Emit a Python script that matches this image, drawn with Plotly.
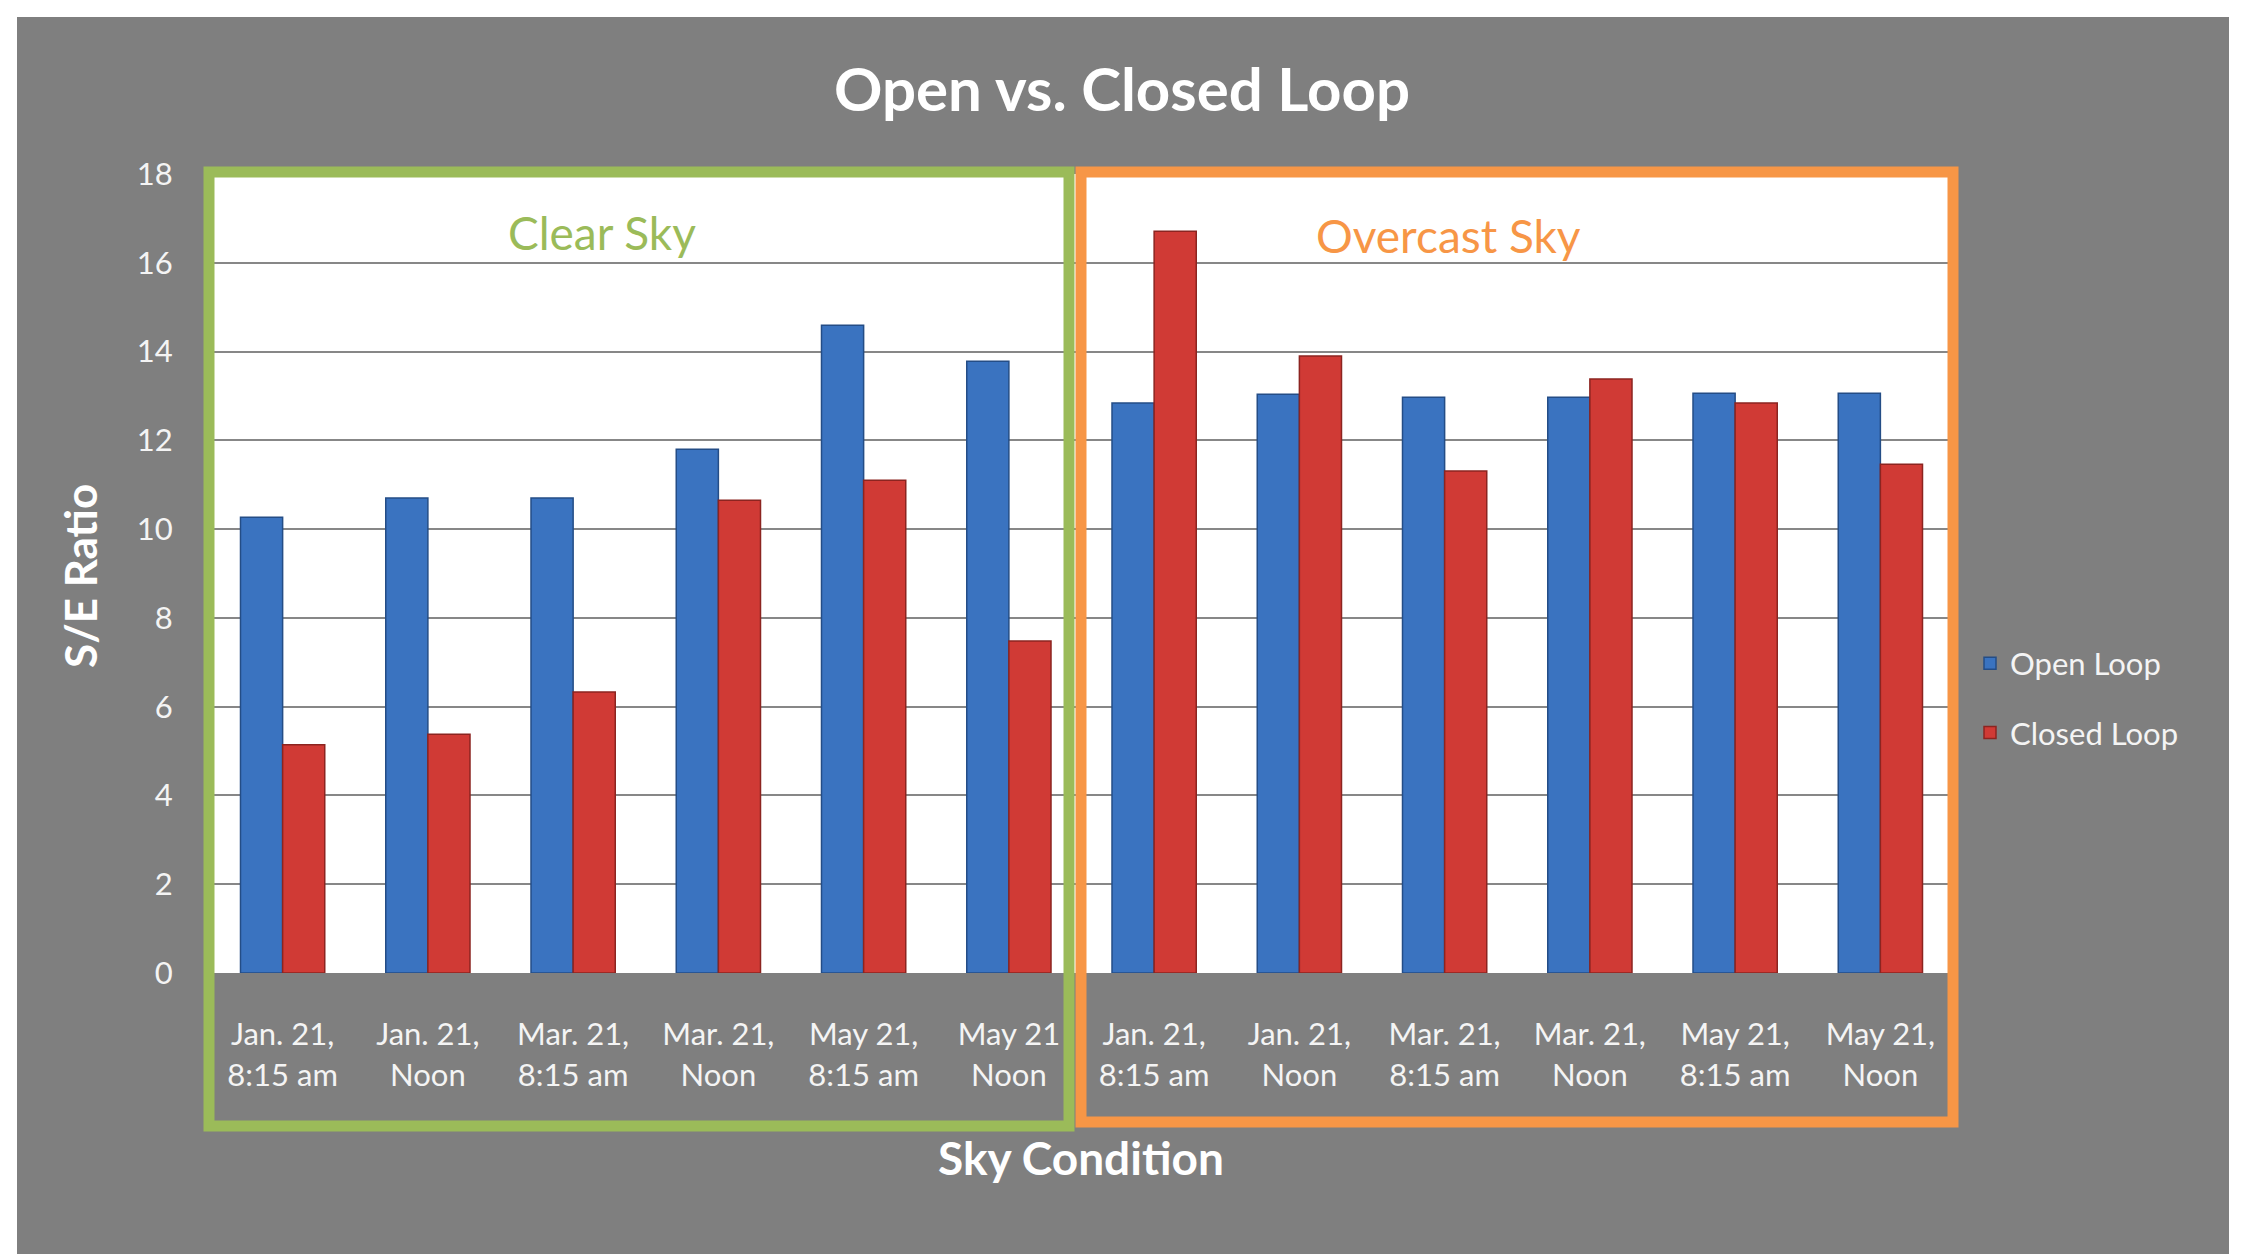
import plotly.graph_objects as go

# ---- data ----
tick_labels = [
    "Jan. 21,<br>8:15 am", "Jan. 21,<br>Noon", "Mar. 21,<br>8:15 am", "Mar. 21,<br>Noon",
    "May 21,<br>8:15 am", "May 21<br>Noon",
    "Jan. 21,<br>8:15 am", "Jan. 21,<br>Noon", "Mar. 21,<br>8:15 am", "Mar. 21,<br>Noon",
    "May 21,<br>8:15 am", "May 21,<br>Noon",
]
open_loop = [10.27, 10.70, 10.70, 11.80, 14.59, 13.78,
             12.84, 13.04, 12.97, 12.97, 13.06, 13.06]
closed_loop = [5.14, 5.38, 6.33, 10.65, 11.10, 7.48,
               16.71, 13.90, 11.31, 13.38, 12.84, 11.46]
y_ticks = [0, 2, 4, 6, 8, 10, 12, 14, 16, 18]
group_names = ["Clear Sky", "Overcast Sky"]

positions = list(range(len(tick_labels)))

# ---- layout geometry (pixels) ----
WIDTH, HEIGHT = 2247, 1254
L, R, T, B = 210, 1953, 174, 973
PW, PH = R - L, B - T


def px(x):
    return (x - L) / PW


def py(y):
    return (B - y) / PH


FONT = "Lato"
GRAY = "#7f7f7f"
GREEN = "#9bbb59"
ORANGE = "#f79646"
LABEL = "#f4f4f4"

fig = go.Figure()
fig.add_trace(go.Bar(
    x=positions, y=open_loop, name="Open Loop", legendgroup="a",
    marker=dict(color="#3a73c0", line=dict(color="#244d86", width=1.5)),
))
fig.add_trace(go.Bar(
    x=positions, y=closed_loop, name="Closed Loop", legendgroup="b",
    marker=dict(color="#d03a35", line=dict(color="#8c2420", width=1.5)),
))

shapes = [
    # gray chart background
    dict(type="rect", xref="paper", yref="paper", layer="below",
         x0=px(17), x1=px(2229), y0=py(17), y1=py(1262),
         fillcolor=GRAY, line=dict(width=0)),
    # white plotting area
    dict(type="rect", xref="paper", yref="paper", layer="below",
         x0=0, x1=1, y0=0, y1=1,
         fillcolor="white", line=dict(width=0)),
    # clear sky box
    dict(type="rect", xref="paper", yref="paper", layer="above",
         x0=px(209), x1=px(1069), y0=py(172), y1=py(1126),
         line=dict(color=GREEN, width=11)),
    # overcast sky box
    dict(type="rect", xref="paper", yref="paper", layer="above",
         x0=px(1081), x1=px(1953), y0=py(172), y1=py(1122),
         line=dict(color=ORANGE, width=11)),
]

annotations = [
    dict(text=group_names[0], xref="paper", yref="paper", x=px(602), y=py(232),
         xanchor="center", yanchor="middle", showarrow=False,
         font=dict(family=FONT, size=46, color=GREEN)),
    dict(text=group_names[1], xref="paper", yref="paper", x=px(1448), y=py(236),
         xanchor="center", yanchor="middle", showarrow=False,
         font=dict(family=FONT, size=46, color=ORANGE)),
    dict(text="S/E Ratio", xref="paper", yref="paper", x=px(80), y=py(576),
         xanchor="center", yanchor="middle", showarrow=False, textangle=-90,
         font=dict(family=FONT, size=44, color="white", weight="bold")),
    dict(text="Sky Condition", xref="paper", yref="paper", x=px(1081), y=py(1157),
         xanchor="center", yanchor="middle", showarrow=False,
         font=dict(family=FONT, size=46, color="white", weight="bold")),
]

fig.update_layout(
    width=WIDTH, height=HEIGHT,
    margin=dict(l=L, r=WIDTH - R, t=T, b=HEIGHT - B, pad=0),
    paper_bgcolor="white",
    plot_bgcolor="rgba(0,0,0,0)",
    barmode="group", bargap=0.42, bargroupgap=0.0,
    title=dict(text="Open vs. Closed Loop", x=1122 / WIDTH,
               xref="container", y=1 - 90 / HEIGHT, yref="container",
               xanchor="center", yanchor="middle",
               font=dict(family=FONT, size=60, color="white", weight="bold")),
    xaxis=dict(
        tickmode="array", tickvals=positions, ticktext=tick_labels,
        range=[-0.5, len(positions) - 0.5],
        showgrid=False, zeroline=False, showline=False,
        ticks="outside", ticklen=34, tickcolor="rgba(0,0,0,0)",
        tickfont=dict(family=FONT, size=31, color=LABEL),
    ),
    yaxis=dict(
        range=[0, 18], tickmode="array", tickvals=y_ticks,
        showgrid=True, gridcolor="#878787", gridwidth=2,
        zeroline=False, showline=False,
        ticks="outside", ticklen=30, tickcolor="rgba(0,0,0,0)",
        tickfont=dict(family=FONT, size=31, color=LABEL),
    ),
    legend=dict(
        x=px(1970), y=py(698), xanchor="left", yanchor="middle",
        traceorder="grouped", tracegroupgap=26,
        bgcolor="rgba(0,0,0,0)",
        font=dict(family=FONT, size=31, color=LABEL),
    ),
    shapes=shapes,
    annotations=annotations,
)

fig.write_html("out.html", config={"displayModeBar": False},
               post_script="document.body.style.margin='0';")
